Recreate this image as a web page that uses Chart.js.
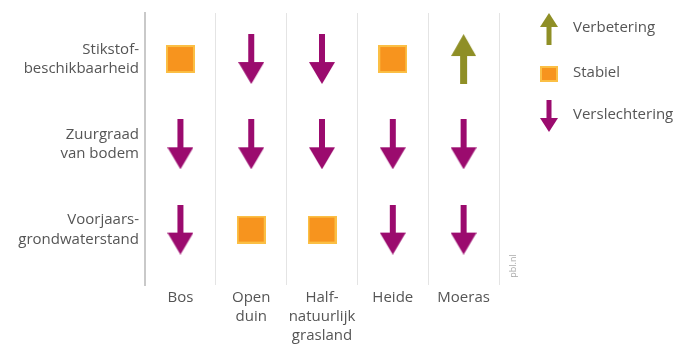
<!DOCTYPE html>
<html>
<head>
<meta charset="utf-8">
<script src="https://cdn.jsdelivr.net/npm/chart.js@4/dist/chart.umd.min.js"></script>
<style>
  html, body { margin: 0; padding: 0; background: #fff; }
  #wrap { width: 676px; height: 344px; }
</style>
</head>
<body>
<div id="wrap"><canvas id="myChart"></canvas></div>
<script>
// habitats (columns) and factors (rows)
const habitatLabels = [['Bos'], ['Open', 'duin'], ['Half-', 'natuurlijk', 'grasland'], ['Heide'], ['Moeras']];
const factorLabels = [['Stikstof-', 'beschikbaarheid'], ['Zuurgraad', 'van bodem'], ['Voorjaars-', 'grondwaterstand']];

// trend per habitat: 1 = verbetering, 0 = stabiel, -1 = verslechtering
const stikstofTrend = [0, -1, -1, 0, 1];
const zuurgraadTrend = [-1, -1, -1, -1, -1];
const grondwaterTrend = [-1, 0, 0, -1, -1];

const legendLabels = ['Verbetering', 'Stabiel', 'Verslechtering'];

const PURPLE = '#9b0b6e';
const OLIVE = '#8f8f26';
const ORANGE = '#f7941e';
const ORANGE_EDGE = '#fbbf45';
const TEXT = '#555555';
const FONT = 'Open Sans';
const FONT_SIZE = 15;

function makeArrow(w, h, shaft, head, color, up) {
  const c = document.createElement('canvas');
  c.width = w; c.height = h;
  const g = c.getContext('2d');
  g.fillStyle = color;
  const sx = (w - shaft) / 2;
  g.beginPath();
  if (up) {
    g.moveTo(w / 2, 0);
    g.lineTo(w, head);
    g.lineTo(0, head);
    g.closePath();
    g.fill();
    g.fillRect(sx, head - 1, shaft, h - head + 1);
  } else {
    g.fillRect(sx, 0, shaft, h - head + 1);
    g.moveTo(0, h - head);
    g.lineTo(w, h - head);
    g.lineTo(w / 2, h);
    g.closePath();
    g.fill();
  }
  return c;
}

function makeSquare(w, h) {
  const c = document.createElement('canvas');
  c.width = w; c.height = h;
  const g = c.getContext('2d');
  g.fillStyle = ORANGE_EDGE;
  g.fillRect(0, 0, w, h);
  g.fillStyle = ORANGE;
  g.fillRect(2, 2, w - 4, h - 4);
  return c;
}

const icons = {
  '1': makeArrow(25, 50, 7, 22, OLIVE, true),
  '0': makeSquare(29, 28),
  '-1': makeArrow(26, 50, 6, 22, PURPLE, false)
};
const legendIcons = [
  makeArrow(18, 32, 5, 14, OLIVE, true),
  makeSquare(18, 16),
  makeArrow(18, 32, 5, 14, PURPLE, false)
];

function rowData(trends, row) {
  return trends.map((t, i) => ({ x: i, y: row, trend: t }));
}

const legendPlugin = {
  id: 'sideLegend',
  afterDraw(chart) {
    const ctx = chart.ctx;
    const ys = [29, 74, 116];
    ctx.save();
    legendIcons.forEach((img, i) => {
      ctx.drawImage(img, 549 - img.width / 2, ys[i] - img.height / 2);
    });
    ctx.fillStyle = TEXT;
    ctx.font = FONT_SIZE + 'px "' + FONT + '"';
    ctx.textBaseline = 'middle';
    legendLabels.forEach((t, i) => ctx.fillText(t, 573, ys[i] - 1));
    // source
    ctx.translate(513, 266);
    ctx.rotate(-Math.PI / 2);
    ctx.font = '9px "' + FONT + '"';
    ctx.fillStyle = '#aaaaaa';
    ctx.textAlign = 'center';
    ctx.fillText('pbl.nl', 0, 0);
    ctx.restore();
  }
};

new Chart(document.getElementById('myChart'), {
  type: 'scatter',
  data: {
    labels: habitatLabels,
    datasets: [
      { label: 'Stikstofbeschikbaarheid', data: rowData(stikstofTrend, 0) },
      { label: 'Zuurgraad van bodem', data: rowData(zuurgraadTrend, 1) },
      { label: 'Voorjaarsgrondwaterstand', data: rowData(grondwaterTrend, 2) }
    ]
  },
  options: {
    responsive: true,
    maintainAspectRatio: false,
    animation: false,
    events: [],
    layout: { padding: { top: 12, right: 177, bottom: 0, left: 0 } },
    elements: {
      point: {
        radius: 12,
        pointStyle: (c) => icons[String(c.raw.trend)]
      }
    },
    plugins: {
      legend: { display: false },
      tooltip: { enabled: false }
    },
    scales: {
      x: {
        type: 'category',
        offset: true,
        grid: { offset: true, color: '#e4e4e4', lineWidth: 1, drawTicks: false },
        border: { display: false },
        ticks: {
          color: TEXT,
          padding: 3,
          maxRotation: 0,
          autoSkip: false,
          font: { family: FONT, size: FONT_SIZE, lineHeight: 1.27 }
        },
        afterFit: (s) => { s.height = 59; s.paddingLeft = 0; s.paddingRight = 0; }
      },
      y: {
        type: 'linear',
        reverse: true,
        min: -0.54,
        max: 2.65,
        grid: { display: false, drawTicks: false },
        border: { display: true, color: '#c9c9c9', width: 2 },
        afterBuildTicks: (s) => { s.ticks = [0, 1, 2].map(v => ({ value: v })); },
        ticks: {
          color: TEXT,
          padding: 6,
          font: { family: FONT, size: FONT_SIZE, lineHeight: 1.3 },
          callback: (v) => factorLabels[v]
        },
        afterFit: (s) => { s.width = 145; s.paddingTop = 0; s.paddingBottom = 0; }
      }
    }
  },
  plugins: [legendPlugin]
});
</script>
</body>
</html>
